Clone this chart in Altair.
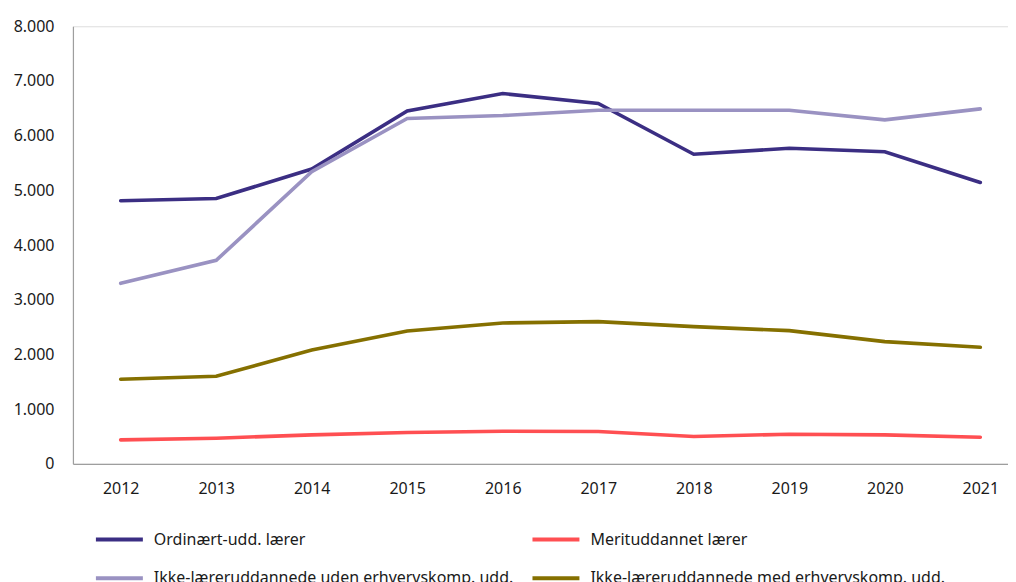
import altair as alt
import pandas as pd

years = [2012, 2013, 2014, 2015, 2016, 2017, 2018, 2019, 2020, 2021]
series = [
    "Ordinært-udd. lærer",
    "Merituddannet lærer",
    "Ikke-læreruddannede uden erhvervskomp. udd.",
    "Ikke-læreruddannede med erhvervskomp. udd.",
]
ordinaert = [4810, 4850, 5390, 6450, 6770, 6590, 5660, 5770, 5705, 5145]
merit = [438, 469, 530, 572, 597, 590, 499, 542, 530, 487]
uden = [3300, 3720, 5340, 6313, 6368, 6466, 6466, 6466, 6289, 6490]
med = [1547, 1602, 2082, 2429, 2575, 2600, 2508, 2435, 2234, 2131]
colors = ["#3b2e83", "#ff4f52", "#9a92c2", "#857000"]

rows = []
for name, vals in zip(series, [ordinaert, merit, uden, med]):
    for y, v in zip(years, vals):
        rows.append({"År": y, "Serie": name, "Antal": v})
df = pd.DataFrame(rows)

font = "Noto Sans"

chart = (
    alt.Chart(df)
    .mark_line(strokeWidth=3.6, strokeCap="round", strokeJoin="miter")
    .encode(
        x=alt.X(
            "År:Q",
            scale=alt.Scale(domain=[2011.5, 2021.29], nice=False, zero=False),
            axis=alt.Axis(
                title=None,
                values=years,
                format="d",
                labelAngle=0,
                ticks=False,
                grid=False,
                domainColor="#9e9e9e",
                domainWidth=1.2,
                labelFont=font,
                labelFontSize=16,
                labelColor="#1a1a1a",
                labelPadding=17,
                labelFlush=False,
            ),
        ),
        y=alt.Y(
            "Antal:Q",
            scale=alt.Scale(domain=[0, 8000], nice=False),
            axis=alt.Axis(
                title=None,
                values=[0, 1000, 2000, 3000, 4000, 5000, 6000, 7000, 8000],
                format=",d",
                labelExpr="replace(datum.label, ',', '.')",
                grid=False,
                ticks=False,
                domainColor="#9e9e9e",
                domainWidth=1.2,
                labelFont=font,
                labelFontSize=16,
                labelColor="#1a1a1a",
                labelPadding=19,
            ),
        ),
        color=alt.Color(
            "Serie:N",
            sort=series,
            scale=alt.Scale(domain=series, range=colors),
            legend=alt.Legend(
                title=None,
                orient="none",
                legendX=21,
                legendY=488,
                columns=2,
                direction="horizontal",
                symbolType="stroke",
                symbolSize=2209,
                symbolStrokeWidth=4,
                labelFont=font,
                labelFontSize=16,
                labelColor="#1a1a1a",
                labelOffset=9,
                labelLimit=500,
                columnPadding=10,
                rowPadding=5,
                padding=0,
            ),
        ),
    )
    .properties(width=936, height=438, padding={"left": 5, "top": 10, "right": 0, "bottom": 0})
    .configure_view(stroke=None)
    .configure(background="white")
)

chart.save("out.html", embed_options={"renderer": "svg", "actions": False})
